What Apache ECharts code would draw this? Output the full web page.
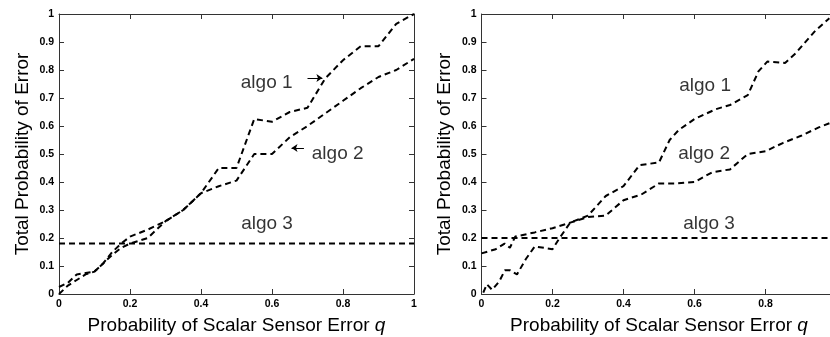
<!DOCTYPE html>
<html>
<head>
<meta charset="utf-8">
<script src="https://cdn.jsdelivr.net/npm/echarts@6/dist/echarts.min.js"></script>
<style>
  html, body { margin: 0; padding: 0; background: #fff; }
  #chart { width: 830px; height: 337px; }
</style>
</head>
<body>
<div id="chart"></div>
<script>
// left panel
const qLeft = [0, 0.025, 0.05, 0.075, 0.1, 0.125, 0.15, 0.175, 0.2, 0.25, 0.3, 0.35, 0.4, 0.45, 0.5, 0.55, 0.6, 0.65, 0.7, 0.75, 0.8, 0.85, 0.9, 0.95, 1];
const algo1Left = [0, 0.03, 0.05, 0.07, 0.08, 0.11, 0.14, 0.165, 0.18, 0.2, 0.26, 0.3, 0.36, 0.45, 0.45, 0.625, 0.615, 0.65, 0.665, 0.77, 0.835, 0.885, 0.885, 0.965, 1];
const algo2Left = [0.025, 0.04, 0.07, 0.075, 0.08, 0.11, 0.15, 0.18, 0.205, 0.23, 0.26, 0.3, 0.36, 0.385, 0.405, 0.5, 0.5, 0.56, 0.6, 0.645, 0.69, 0.735, 0.775, 0.8, 0.84];
const algo3Left = 0.18;

// right panel
const qRight1 = [0.005, 0.015, 0.03, 0.05, 0.066, 0.08, 0.1, 0.125, 0.15, 0.2, 0.22, 0.25, 0.3, 0.35, 0.4, 0.445, 0.5, 0.53, 0.555, 0.6, 0.66, 0.7, 0.75, 0.78, 0.805, 0.855, 0.885, 0.94, 0.98];
const algo1Right = [0.005, 0.035, 0.015, 0.045, 0.085, 0.085, 0.07, 0.125, 0.17, 0.16, 0.2, 0.255, 0.28, 0.35, 0.385, 0.46, 0.47, 0.55, 0.585, 0.625, 0.66, 0.675, 0.71, 0.795, 0.83, 0.825, 0.86, 0.94, 0.985];
const qRight2 = [0, 0.04, 0.065, 0.08, 0.095, 0.15, 0.2, 0.25, 0.3, 0.35, 0.4, 0.45, 0.5, 0.55, 0.6, 0.65, 0.7, 0.75, 0.8, 0.85, 0.9, 0.95, 0.98];
const algo2Right = [0.145, 0.16, 0.18, 0.165, 0.205, 0.22, 0.235, 0.255, 0.275, 0.28, 0.335, 0.355, 0.395, 0.395, 0.4, 0.435, 0.445, 0.5, 0.51, 0.54, 0.565, 0.595, 0.61];
const algo3Right = 0.2;

const xTitle = "Probability of Scalar Sensor Error {q|q}";
const yTitle = "Total Probability of Error";

// annotation anchors in data coordinates [q, p, text]
const notesLeft = [[0.585, 0.755, "algo 1"], [0.785, 0.502, "algo 2"], [0.586, 0.25, "algo 3"]];
const notesRight = [[0.63, 0.743, "algo 1"], [0.627, 0.5, "algo 2"], [0.641, 0.25, "algo 3"]];
const arrowsLeft = [[[0.70, 0.771], [0.742, 0.771]], [[0.69, 0.521], [0.655, 0.521]]];

const FONT = "'Liberation Sans', Arial, sans-serif";
const zip = (xs, ys) => xs.map((x, i) => [x, ys[i]]);

function axesFor(gridIndex) {
  const base = {
    gridIndex, type: "value", min: 0, max: 1,
    axisLine: { show: true, onZero: false, lineStyle: { color: "#333", width: 1 } },
    axisTick: { show: true, inside: true, length: 5, lineStyle: { color: "#333" } },
    splitLine: { show: false },
  };
  const label = { color: "#000", fontSize: 10.5, fontWeight: "bold", fontFamily: FONT };
  const nameStyle = { color: "#000", fontSize: 19, fontFamily: FONT, rich: { q: { fontStyle: "italic", fontSize: 19, fontFamily: FONT, color: "#000" } } };
  return {
    x: [
      { ...base, position: "bottom", interval: 0.2, axisLabel: { ...label, margin: 5 },
        name: xTitle, nameLocation: "middle", nameGap: 22, nameTextStyle: nameStyle },
      { ...base, position: "top", interval: 0.2, axisLabel: { show: false } },
    ],
    y: [
      { ...base, position: "left", interval: 0.1, axisLabel: { ...label, margin: 5 },
        name: yTitle, nameLocation: "middle", nameGap: 27, nameTextStyle: nameStyle },
      { ...base, position: "right", interval: 0.1, axisLabel: { show: false } },
    ],
  };
}

const a0 = axesFor(0), a1 = axesFor(1);
const dash = { color: "#000", width: 2, type: [6, 4] };

function lineSeries(axis, data) {
  return { type: "line", xAxisIndex: axis, yAxisIndex: axis, data, showSymbol: false, symbol: "none",
    lineStyle: dash, silent: true, animation: false };
}

function noteSeries(axis, notes, arrows) {
  return {
    type: "scatter", xAxisIndex: axis, yAxisIndex: axis, symbolSize: 0, silent: true, animation: false,
    data: notes.map(n => ({ value: [n[0], n[1]], name: n[2] })),
    label: { show: true, position: "inside", formatter: p => p.name, color: "#000", fontSize: 19, fontFamily: FONT },
    markLine: arrows ? {
      silent: true, animation: false, symbol: ["none", "arrow"], symbolSize: 6,
      lineStyle: { color: "#000", width: 1, type: "solid" }, label: { show: false },
      data: arrows.map(a => [{ coord: a[0] }, { coord: a[1] }]),
    } : undefined,
  };
}

const chart = echarts.init(document.getElementById("chart"), null, { renderer: "canvas" });
chart.setOption({
  animation: false,
  backgroundColor: "#fff",
  grid: [
    { left: 59, right: 416, top: 14, bottom: 43, containLabel: false, outerBoundsMode: "none" },
    { left: 481.5, right: -6.5, top: 14, bottom: 43, containLabel: false, outerBoundsMode: "none" },
  ],
  xAxis: [...a0.x, ...a1.x.map(a => ({ ...a, gridIndex: 1 }))],
  yAxis: [...a0.y, ...a1.y.map(a => ({ ...a, gridIndex: 1 }))],
  series: [
    lineSeries(0, zip(qLeft, algo1Left)),
    lineSeries(0, zip(qLeft, algo2Left)),
    lineSeries(0, [[0, algo3Left], [1, algo3Left]]),
    noteSeries(0, notesLeft, arrowsLeft),
    lineSeries(2, zip(qRight1, algo1Right)),
    lineSeries(2, zip(qRight2, algo2Right)),
    lineSeries(2, [[0, algo3Right], [1, algo3Right]]),
    noteSeries(2, notesRight, null),
  ],
});
</script>
</body>
</html>
